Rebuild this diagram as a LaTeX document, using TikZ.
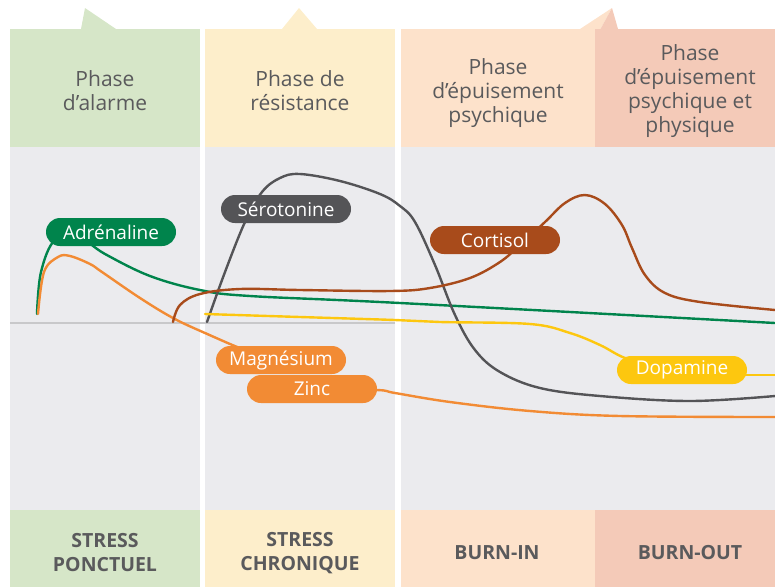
\documentclass[tikz,border=0pt]{standalone}
\usepackage{fontspec}
\setmainfont{Open Sans}

\definecolor{alarmfill}{HTML}{D6E6C8}
\definecolor{resistfill}{HTML}{FDEECB}
\definecolor{burninfill}{HTML}{FDE2CB}
\definecolor{burnoutfill}{HTML}{F4CAB8}
\definecolor{bandgray}{HTML}{EBEBEE}
\definecolor{axisgray}{HTML}{C8C8CA}
\definecolor{textgray}{HTML}{5A5A5C}
\definecolor{adrgreen}{HTML}{00844C}
\definecolor{serogray}{HTML}{545457}
\definecolor{cortbrown}{HTML}{A84B1B}
\definecolor{magorange}{HTML}{F28B34}
\definecolor{dopyellow}{HTML}{FDC70F}

\tikzset{
  phasetext/.style={text=textgray, align=center, font=\fontsize{21}{24}\selectfont},
  stagetext/.style={text=textgray, align=center, font=\bfseries\fontsize{19.5}{24}\selectfont},
  pill/.style={rounded corners=14pt, minimum width=130pt, minimum height=28pt,
    inner sep=0pt, text=white, font=\fontsize{19}{22}\selectfont},
  curve/.style={line width=2.4pt, line cap=round}
}

\begin{document}
\begin{tikzpicture}[x=1pt,y=-1pt]

  \useasboundingbox (0,0) rectangle (775,587);

  % Header columns with their small tabs
  \fill[alarmfill] (10,29) rectangle (200,147);
  \fill[alarmfill] (81,29) -- (85,8) -- (116,29) -- cycle;
  \fill[resistfill] (205,29) rectangle (395,147);
  \fill[resistfill] (282,29) -- (299,8) -- (317,29) -- cycle;
  \fill[burninfill] (401,29) rectangle (595,147);
  \fill[burninfill] (580,29) -- (612,8) -- (595,39) -- (595,29) -- cycle;
  \fill[burnoutfill] (595,29) rectangle (775,147);
  \fill[burnoutfill] (595,39) -- (612,8) -- (618,29) -- (595,29) -- cycle;

  % Gray band of the graph
  \fill[bandgray] (10,147) rectangle (200,510);
  \fill[bandgray] (205,147) rectangle (395,510);
  \fill[bandgray] (401,147) rectangle (775,510);

  % Footer columns
  \fill[alarmfill] (10,510) rectangle (200,587);
  \fill[resistfill] (205,510) rectangle (395,587);
  \fill[burninfill] (401,510) rectangle (595,587);
  \fill[burnoutfill] (595,510) rectangle (775,587);

  % Base line
  \draw[axisgray, line width=2.5pt] (10,323) -- (395,323);

  % Curves (the labels are drawn on top of them)
  % Adrenaline
  \draw[curve, adrgreen] plot[smooth, tension=0.6] coordinates {(37,314) (41,272)
    (55,240) (80,238) (105,254) (150,276) (200,290) (250,296) (400,303) (775,323)};
  % Magnesium
  \draw[curve, magorange] plot[smooth, tension=0.6] coordinates {(38,314) (44,272)
    (58,257) (70,256) (90,264) (102,272) (140,298) (173,318) (205,333) (250,352) (281,360)};
  % Zinc
  \draw[curve, magorange] plot[smooth, tension=0.6] coordinates {(312,389) (377,390)
    (395,393) (450,402) (530,411) (620,416) (775,417)};
  % Serotonine
  \draw[curve, serogray] plot[smooth, tension=0.6] coordinates {(207,322) (225,272)
    (245,222) (262,192) (280,178) (300,174) (340,181) (380,194) (400,206) (415,222)
    (435,265) (455,315) (475,350) (500,372) (540,388) (600,396) (690,401) (775,396)};
  % Cortisol
  \draw[curve, cortbrown] plot[smooth, tension=0.6] coordinates {(173,322) (180,305)
    (200,294) (240,289) (300,290) (390,291) (430,288) (470,278) (500,262) (520,245)
    (545,222) (565,203) (585,195) (605,204) (622,225) (632,248) (645,275) (665,293)
    (700,302) (775,310)};
  % Dopamine
  \draw[curve, dopyellow] plot[smooth, tension=0.6] coordinates {(205,314) (300,317)
    (395,320) (440,322) (530,324) (570,333) (600,345) (625,358) (660,368)};
  \draw[curve, dopyellow] (700,375) -- (775,375);

  % Phase titles
  \node[phasetext] (alarm) at (105,91) {Phase\\d'alarme};
  \node[phasetext] (resist) at (300,91) {Phase de\\résistance};
  \node[phasetext] (burnin) at (498,93) {Phase\\d'épuisement\\psychique};
  \node[phasetext] (burnout) at (690,91) {Phase\\d'épuisement\\psychique et\\physique};

  % Stage names
  \node[stagetext] (ponctuel) at (105,553) {STRESS\\PONCTUEL};
  \node[stagetext] (chronique) at (300,553) {STRESS\\CHRONIQUE};
  \node[stagetext] (stagein) at (497,553) {BURN-IN};
  \node[stagetext] (stageout) at (690,553) {BURN-OUT};

  % Hormone labels
  \node[pill, fill=adrgreen] (adr) at (111,232) {Adrénaline};
  \node[pill, fill=serogray] (sero) at (286,209) {Sérotonine};
  \node[pill, fill=cortbrown] (cort) at (495,240) {Cortisol};
  \node[pill, fill=magorange] (magn) at (281,360) {Magnésium};
  \node[pill, fill=magorange] (zinc) at (312,389) {Zinc};
  \node[pill, fill=dopyellow] (dopa) at (682,370) {Dopamine};

\end{tikzpicture}
\end{document}
